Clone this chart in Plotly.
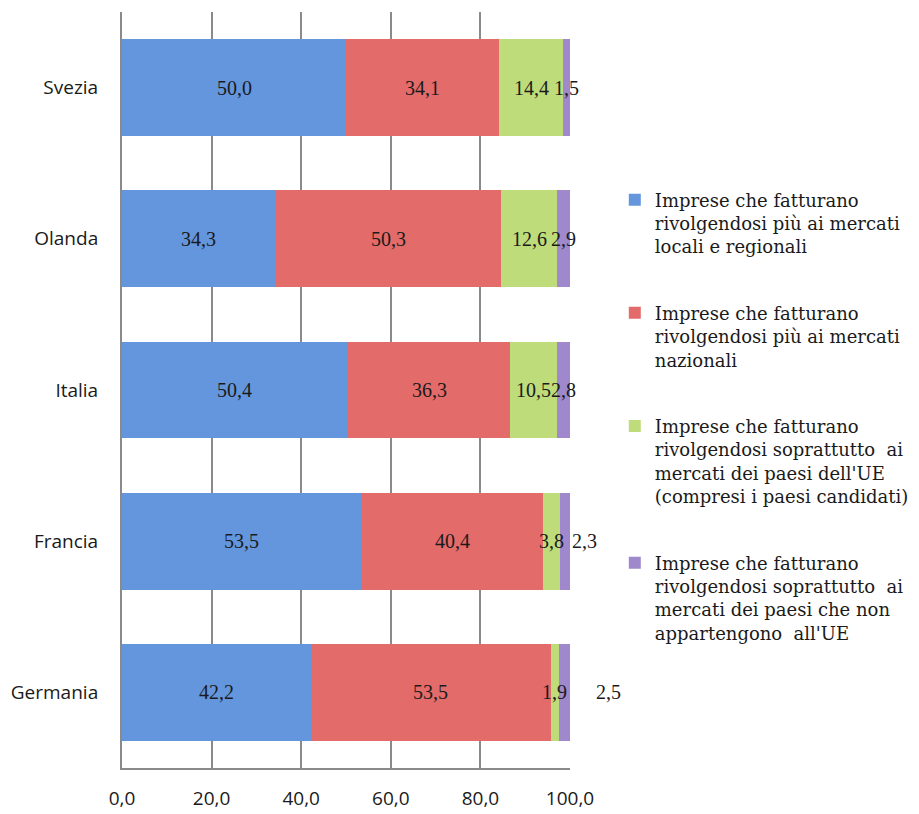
import plotly.graph_objects as go

countries = ["Svezia", "Olanda", "Italia", "Francia", "Germania"]

locali = [50.0, 34.3, 50.4, 53.5, 42.2]
nazionali = [34.1, 50.3, 36.3, 40.4, 53.5]
ue = [14.4, 12.6, 10.5, 3.8, 1.9]
extra_ue = [1.5, 2.9, 2.8, 2.3, 2.5]

series_names = [
    "Imprese che fatturano<br>rivolgendosi più ai mercati<br>locali e regionali",
    "Imprese che fatturano<br>rivolgendosi più ai mercati<br>nazionali",
    "Imprese che fatturano<br>rivolgendosi soprattutto  ai<br>mercati dei paesi dell'UE<br>(compresi i paesi candidati)",
    "Imprese che fatturano<br>rivolgendosi soprattutto  ai<br>mercati dei paesi che non<br>appartengono  all'UE",
]
series_values = [locali, nazionali, ue, extra_ue]
colors = ["#6496DD", "#E36B6A", "#BFDC7A", "#9F88CB"]

x_ticks = [0, 20, 40, 60, 80, 100]

# excel nudged a couple of the tiny labels to the right
label_shift = {("Francia", 3): 20, ("Germania", 3): 44}

SERIF = "Liberation Serif, Times New Roman, serif"
WIDE_SERIF = "DejaVu Serif, Liberation Serif, serif"
SANS = "Open Sans, Liberation Sans, Arial, sans-serif"

fig = go.Figure()
for i, (name, vals, col) in enumerate(zip(series_names, series_values, colors)):
    fig.add_trace(go.Bar(
        x=vals, y=countries, orientation="h", name=name,
        marker=dict(color=col, line=dict(width=0)),
        legendgroup=f"g{i}",
    ))

# labels centred on each segment
left = [0.0] * len(countries)
for i, vals in enumerate(series_values):
    for j, c in enumerate(countries):
        v = vals[j]
        fig.add_annotation(
            x=left[j] + v / 2, y=c, text=f"{v:.1f}".replace(".", ","),
            showarrow=False, xshift=label_shift.get((c, i), 0),
            font=dict(family=SERIF, size=20, color="#1a1a1a"),
        )
        left[j] += v

fig.update_layout(
    barmode="stack",
    bargap=0.36,
    width=919, height=814,
    margin=dict(l=114, r=357, t=4, b=54),
    plot_bgcolor="white", paper_bgcolor="white",
    separators=",.",
    legend=dict(
        x=1.1, xanchor="left", y=0.465, yanchor="middle",
        font=dict(family=WIDE_SERIF, size=18, color="#1a1a1a"),
        tracegroupgap=40, itemwidth=30, valign="top",
    ),
)
fig.update_xaxes(
    range=[0, 100], tickvals=x_ticks, tickformat=".1f",
    showgrid=True, gridcolor="#8a8a8a", gridwidth=1.5,
    showline=True, linecolor="#8a8a8a", linewidth=2,
    ticks="", ticklabelstandoff=12,
    tickfont=dict(family=SANS, size=19, color="#1a1a1a"),
    zeroline=False,
)
fig.update_yaxes(
    categoryorder="array", categoryarray=countries, autorange="reversed",
    showline=True, linecolor="#8a8a8a", linewidth=2,
    ticks="", ticklabelstandoff=18,
    tickfont=dict(family=SANS, size=19, color="#1a1a1a"),
)

fig.write_html("out.html")
